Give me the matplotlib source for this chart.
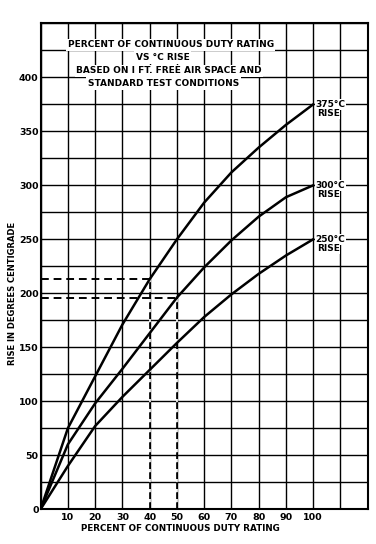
import matplotlib.pyplot as plt

plt.rcParams['font.family'] = 'DejaVu Sans'
plt.rcParams['font.weight'] = 'bold'

pct = [0, 10, 20, 30, 40, 50, 60, 70, 80, 90, 100]
rise_375 = [0, 75, 123, 171, 213, 250, 284, 312, 335, 356, 375]
rise_300 = [0, 60, 98, 130, 163, 196, 224, 249, 271, 289, 300]
rise_250 = [0, 40, 77, 104, 129, 154, 178, 199, 218, 235, 250]
curve_names = ['375°C', '300°C', '250°C']

# dashed read-off lines
readoff_pct = [40, 50]
readoff_rise = [213, 196]

title_lines = ['PERCENT OF CONTINUOUS DUTY RATING',
               'VS °C RISE',
               'BASED ON I FT. FREE AIR SPACE AND',
               'STANDARD TEST CONDITIONS']
title_x = [47.7, 44.7, 47.1, 45.0]
title_y = [430, 418.5, 406, 394.4]

x_ticks = list(range(0, 121, 10))
x_ticklabels = [str(v) if 0 < v <= 100 else '' for v in x_ticks]
y_ticks = list(range(0, 451, 25))
y_ticklabels = [str(v) if v % 50 == 0 and v <= 400 else '' for v in y_ticks]

fig = plt.figure(figsize=(3.76, 5.44), dpi=100)
ax = fig.add_axes([0.108, 0.064, 0.870, 0.893])

# curves
for ys in [rise_375, rise_300, rise_250]:
    ax.plot(pct, ys, color='black', lw=1.8, zorder=3, solid_joinstyle='round')

# read-off lines
for p, r in zip(readoff_pct, readoff_rise):
    ax.plot([0, p], [r, r], color='black', lw=1.4, ls=(0, (4, 2.5)), zorder=3)
    ax.plot([p, p], [0, r], color='black', lw=1.2, ls=(0, (4, 2)), gapcolor='white', zorder=2.5)

# curve labels
for name, ys in zip(curve_names, [rise_375, rise_300, rise_250]):
    ax.text(100.8, ys[-1], name, ha='left', va='center', fontsize=6.5, zorder=4,
            bbox=dict(fc='white', ec='none', pad=0.6))
    ax.text(105.5, ys[-1] - 8.5, 'RISE', ha='center', va='center', fontsize=6.5, zorder=4,
            bbox=dict(fc='white', ec='none', pad=0.6))

# title block
for t, tx, ty in zip(title_lines, title_x, title_y):
    ax.text(tx, ty, t, ha='center', va='center', fontsize=6.5, zorder=4,
            bbox=dict(fc='white', ec='none', pad=1.2))

ax.set_xlim(0, 120)
ax.set_ylim(0, 450)
ax.set_xticks(x_ticks)
ax.set_xticklabels(x_ticklabels)
ax.set_yticks(y_ticks)
ax.set_yticklabels(y_ticklabels)
ax.grid(True, color='black', lw=1.0)
ax.set_axisbelow(True)
ax.tick_params(length=0, labelsize=6.8)
ax.tick_params(axis='x', pad=3)
ax.tick_params(axis='y', pad=1.5)
for s in ax.spines.values():
    s.set_linewidth(1.5)

ax.text(51.4, -17.6, 'PERCENT OF CONTINUOUS DUTY RATING', ha='center', va='center',
        fontsize=6.3, clip_on=False)
ax.text(-10.4, 200, 'RISE IN DEGREES CENTIGRADE', ha='center', va='center',
        rotation=90, fontsize=6.0, clip_on=False)

fig.savefig('out.png', dpi=100, facecolor='white')
